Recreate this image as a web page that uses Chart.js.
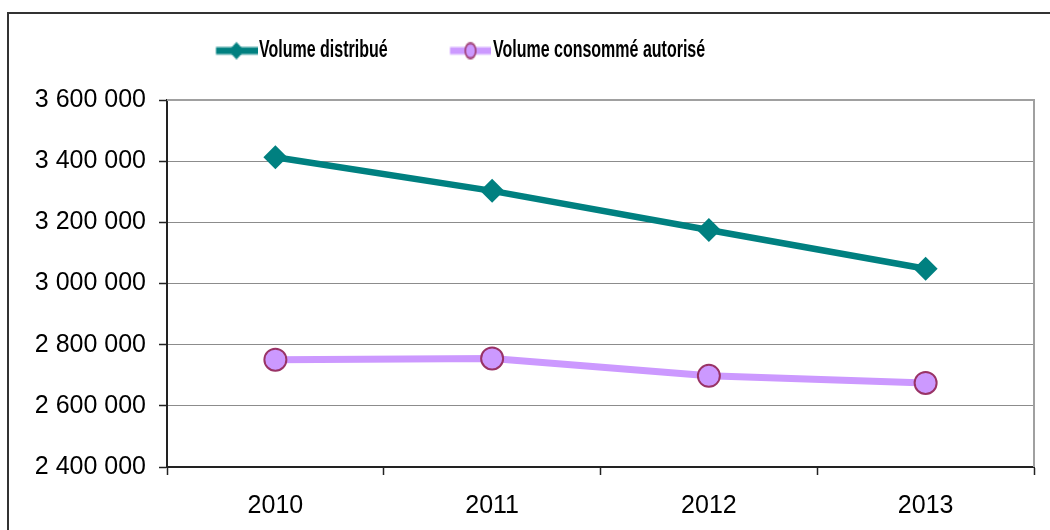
<!DOCTYPE html>
<html>
<head>
<meta charset="utf-8">
<script src="https://cdn.jsdelivr.net/npm/chart.js@4"></script>
<style>
  html, body { margin: 0; padding: 0; background: #fff; }
  #wrap { position: relative; width: 1050px; height: 530px; }
</style>
</head>
<body>
<div id="wrap"><canvas id="graphique" width="1050" height="530"></canvas></div>
<script>
// données
const annees = ["2010", "2011", "2012", "2013"];
const volumeDistribue = [3413000, 3303000, 3175000, 3048000];
const volumeConsomme = [2751000, 2755000, 2698000, 2675000];
const yMin = 2400000;
const yMax = 3600000;
const yPas = 200000;

// petite image pour la légende : trait + marqueur (trait sur la partie droite)
function iconeLegende(couleurTrait, dessinMarqueur) {
    const c = document.createElement("canvas");
    c.width = 56;
    c.height = 20;
    const g = c.getContext("2d");
    g.strokeStyle = couleurTrait;
    g.lineWidth = 5;
    g.beginPath();
    g.moveTo(14.5, 10);
    g.lineTo(56, 10);
    g.stroke();
    dessinMarqueur(g, 35, 10);
    return c;
}

const iconeDistribue = iconeLegende("#008080", (g, x, y) => {
    g.fillStyle = "#008080";
    g.beginPath();
    g.moveTo(x - 8, y);
    g.lineTo(x, y - 6);
    g.lineTo(x + 8, y);
    g.lineTo(x, y + 6);
    g.closePath();
    g.fill();
});

const iconeConsomme = iconeLegende("#cc99ff", (g, x, y) => {
    g.fillStyle = "#cc99ff";
    g.strokeStyle = "#993366";
    g.lineWidth = 1.5;
    g.beginPath();
    g.arc(x, y, 5.3, 0, Math.PI * 2);
    g.fill();
    g.stroke();
});

// cadre extérieur + bordure de la zone de tracé + légende étirée en hauteur
const cadre = {
    id: "cadre",
    afterInit(chart) {
        const leg = chart.legend;
        const dessin = leg.draw.bind(leg);
        leg.draw = function () {
            const c = chart.ctx;
            c.save();
            c.translate(0, 50);
            c.scale(1, 1.45);
            c.translate(0, -48.5);
            dessin();
            c.restore();
        };
    },
    beforeDraw(chart) {
        const ctx = chart.ctx;
        ctx.save();
        ctx.strokeStyle = "#333";
        ctx.lineWidth = 2;
        ctx.beginPath();
        ctx.moveTo(8, 530);
        ctx.lineTo(8, 13);
        ctx.lineTo(1050, 13);
        ctx.stroke();
        ctx.restore();
    },
    beforeDatasetsDraw(chart) {
        const a = chart.chartArea;
        const ctx = chart.ctx;
        ctx.save();
        ctx.strokeStyle = "#a0a0a0";
        ctx.lineWidth = 2;
        ctx.beginPath();
        ctx.moveTo(a.left, a.top);
        ctx.lineTo(a.right, a.top);
        ctx.lineTo(a.right, a.bottom);
        ctx.stroke();
        ctx.restore();
    }
};

const ctx = document.getElementById("graphique");
new Chart(ctx, {
    type: "line",
    data: {
        labels: annees,
        datasets: [{
            label: "Volume distribué",
            data: volumeDistribue,
            borderColor: "#008080",
            backgroundColor: "#008080",
            borderWidth: 6.5,
            pointStyle: "rectRot",
            pointRadius: 12,
            pointHoverRadius: 12,
            pointBorderWidth: 0,
            tension: 0
        }, {
            label: "Volume consommé autorisé",
            data: volumeConsomme,
            borderColor: "#cc99ff",
            backgroundColor: "#cc99ff",
            borderWidth: 7,
            pointStyle: "circle",
            pointRadius: 11,
            pointHoverRadius: 11,
            pointBorderColor: "#993366",
            pointBorderWidth: 2,
            tension: 0
        }]
    },
    options: {
        responsive: false,
        animation: false,
        devicePixelRatio: 1,
        layout: { padding: { left: 0, right: 16, top: 0, bottom: 0 } },
        plugins: {
            legend: {
                position: "top",
                align: "start",
                fullSize: false,
                labels: {
                    usePointStyle: true,
                    pointStyleWidth: 43,
                    padding: 41,
                    color: "#000",
                    font: { family: "'Liberation Sans', Arial, sans-serif", size: 16, weight: "bold" },
                    // espaces en fin du 1er libellé pour écarter le 2e élément
                    generateLabels: (chart) => chart.data.datasets.map((d, i) => ({
                        text: i === 0 ? d.label + "   " : d.label,
                        datasetIndex: i,
                        pointStyle: i === 0 ? iconeDistribue : iconeConsomme,
                        fillStyle: d.backgroundColor,
                        strokeStyle: d.borderColor,
                        lineWidth: 0,
                        hidden: false
                    }))
                }
            },
            // espace vide sous la légende
            subtitle: {
                display: true,
                text: " ",
                weight: 500,
                font: { size: 10 },
                padding: { top: 0, bottom: 21 }
            },
            tooltip: { enabled: false }
        },
        scales: {
            x: {
                offset: true,
                grid: {
                    offset: true,
                    drawOnChartArea: false,
                    drawTicks: true,
                    tickLength: 8,
                    tickColor: "#222",
                    tickWidth: 1.5
                },
                border: { color: "#222", width: 2 },
                ticks: {
                    color: "#000",
                    padding: 16,
                    maxRotation: 0,
                    font: { family: "'Liberation Sans', Arial, sans-serif", size: 25 }
                },
                afterFit: (s) => { s.height = 63; }
            },
            y: {
                min: yMin,
                max: yMax,
                grid: {
                    color: "#8c8c8c",
                    lineWidth: 1,
                    tickLength: 8,
                    tickColor: "#222",
                    tickWidth: 1.5
                },
                border: { color: "#222", width: 2 },
                ticks: {
                    stepSize: yPas,
                    color: "#000",
                    padding: 13,
                    font: { family: "'Liberation Sans', Arial, sans-serif", size: 25 },
                    callback: (v) => String(v).replace(/\B(?=(\d{3})+(?!\d))/g, " ")
                },
                afterFit: (s) => { s.width = 167; }
            }
        }
    },
    plugins: [cadre]
});
</script>
</body>
</html>
